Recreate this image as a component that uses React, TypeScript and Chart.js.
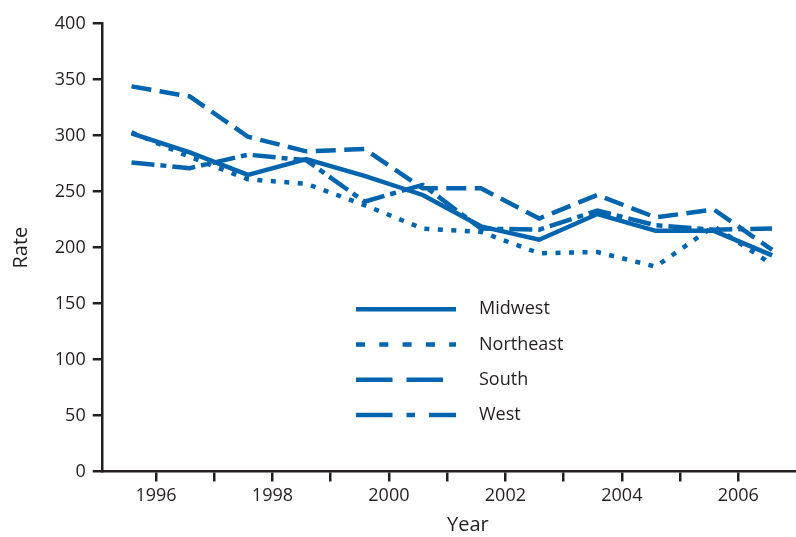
import React, { useEffect, useRef } from "react";
import { Chart, registerables } from "chart.js";

Chart.register(...registerables);

// ---- data ----
const years = [1995, 1996, 1997, 1998, 1999, 2000, 2001, 2002, 2003, 2004, 2005, 2006];
const tickYears = [1996, 1997, 1998, 1999, 2000, 2001, 2002, 2003, 2004, 2005, 2006];
const midwest = [302, 285, 265, 279, 264, 247, 219, 207, 230, 215, 215, 193];
const northeast = [303, 281, 261, 257, 238, 217, 214, 195, 196, 183, 219, 185];
const south = [344, 335, 299, 286, 288, 253, 253, 226, 247, 227, 234, 198];
const west = [276, 271, 283, 278, 241, 256, 217, 216, 233, 220, 216, 217];
const yTicks = [0, 50, 100, 150, 200, 250, 300, 350, 400];
const seriesNames = ["Midwest", "Northeast", "South", "West"];

// ---- styles ----
const BLUE = "#0064AF";
const INK = "#231F20";
const FONT = "'Open Sans', 'DejaVu Sans', sans-serif";
const POINT_OFFSET = 0.58; // points sit slightly past the start of each year
const chartDashes: number[][] = [[], [5, 8.5], [20, 8.5], [23, 6, 6, 6]];
const legendDashes: number[][] = [[], [9, 14.3], [36.5, 14], [36.5, 14, 8.5, 14]];
const legendLengths = [100, 100, 87, 100];

const legendPlugin = {
  id: "insideLegend",
  afterDraw(chart: any) {
    const { ctx, chartArea } = chart;
    const x0 = chartArea.left + 253.3;
    const rowTop = 309.3;
    const rowGap = 35.2;
    ctx.save();
    chart.data.datasets.forEach((ds: any, i: number) => {
      const y = rowTop + i * rowGap;
      ctx.beginPath();
      ctx.setLineDash(legendDashes[i]);
      ctx.lineWidth = 4.5;
      ctx.lineCap = "butt";
      ctx.strokeStyle = ds.borderColor;
      ctx.moveTo(x0, y);
      ctx.lineTo(x0 + legendLengths[i], y);
      ctx.stroke();
      ctx.setLineDash([]);
      ctx.fillStyle = INK;
      ctx.font = `18px ${FONT}`;
      ctx.textAlign = "left";
      ctx.textBaseline = "middle";
      ctx.fillText(ds.label, x0 + 123, y);
    });
    ctx.restore();
  },
};

export default function App() {
  const ref = useRef<HTMLCanvasElement | null>(null);

  useEffect(() => {
    if (!ref.current) return;
    const all = [midwest, northeast, south, west];
    const chart = new Chart(ref.current, {
      type: "line",
      data: {
        datasets: all.map((vals, i) => ({
          label: seriesNames[i],
          data: vals.map((v, j) => ({ x: years[j] + POINT_OFFSET, y: v })),
          borderColor: BLUE,
          backgroundColor: BLUE,
          borderWidth: 4.5,
          borderDash: chartDashes[i],
          borderCapStyle: "butt",
          borderJoinStyle: "miter",
          pointRadius: 0,
          pointHoverRadius: 0,
          tension: 0,
          fill: false,
        })),
      },
      options: {
        responsive: false,
        animation: false,
        events: [],
        layout: { padding: { top: 23.7, left: 0, right: 0, bottom: 0 } },
        plugins: {
          legend: { display: false },
          tooltip: { enabled: false },
        },
        scales: {
          x: {
            type: "linear",
            min: 1995.085,
            max: 2007.626,
            afterBuildTicks: (scale: any) => {
              scale.ticks = tickYears.map((v) => ({ value: v }));
            },
            afterFit: (scale: any) => {
              scale.height = 65.5;
            },
            ticks: {
              autoSkip: false,
              maxRotation: 0,
              padding: 4,
              color: INK,
              font: { family: FONT, size: 18 },
              callback: (v: any) => (Number(v) % 2 === 0 ? String(v) : ""),
            },
            grid: {
              display: true,
              drawOnChartArea: false,
              drawTicks: true,
              tickLength: 10,
              color: INK,
              lineWidth: 2.5,
            },
            border: { display: true, color: INK, width: 2.5 },
            title: {
              display: true,
              text: "Year",
              color: INK,
              font: { family: FONT, size: 20 },
              padding: { top: 0, bottom: 0 },
            },
          },
          y: {
            type: "linear",
            min: 0,
            max: 400,
            afterBuildTicks: (scale: any) => {
              scale.ticks = yTicks.map((v) => ({ value: v }));
            },
            afterFit: (scale: any) => {
              scale.width = 102.7;
            },
            ticks: {
              padding: 7,
              color: INK,
              font: { family: FONT, size: 18 },
            },
            grid: {
              display: true,
              drawOnChartArea: false,
              drawTicks: true,
              tickLength: 10,
              color: INK,
              lineWidth: 2.5,
            },
            border: { display: true, color: INK, width: 2.5 },
            title: {
              display: true,
              text: "Rate",
              color: INK,
              font: { family: FONT, size: 20 },
              padding: { top: 9.7, bottom: 0 },
            },
          },
        },
      },
      plugins: [legendPlugin],
    } as any);
    return () => chart.destroy();
  }, []);

  return (
    <div
      style={{
        position: "fixed",
        left: 0,
        top: 0,
        width: 796,
        height: 537,
        overflow: "hidden",
        background: "#ffffff",
      }}
    >
      <canvas ref={ref} width={833} height={537} style={{ display: "block", width: 833, height: 537 }} />
    </div>
  );
}
